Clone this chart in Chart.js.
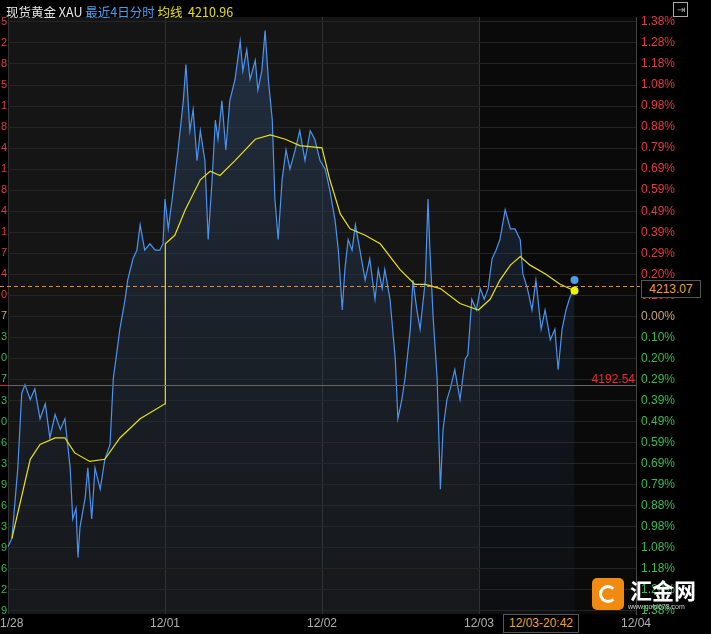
<!DOCTYPE html>
<html><head><meta charset="utf-8">
<script src="https://cdn.jsdelivr.net/npm/chart.js@4"></script>
<style>
body{margin:0;background:#000;width:711px;height:634px;overflow:hidden;font-family:"Noto Sans CJK SC","Noto Sans",sans-serif;}
#wrap{position:absolute;left:0;top:0;width:711px;height:634px;}
#hdr{position:absolute;left:6px;top:2px;font-size:12.5px;white-space:nowrap;}
#logo{position:absolute;left:592px;top:576px;width:110px;height:38px;}
#tip{position:absolute;left:503px;top:614px;width:74px;height:17px;border:1px solid #555;background:#000;color:#f0a030;font:12px "Liberation Sans",sans-serif;text-align:center;line-height:17px;}
#pbox{position:absolute;left:641px;top:280px;width:58px;height:16px;border:1px solid #555;background:#000;color:#f0a030;font:12px "Liberation Sans",sans-serif;text-align:center;line-height:16px;}
</style></head><body>
<div id="wrap"><canvas id="c" width="711" height="634"></canvas></div>
<div id="hdr"><span style="color:#e6e6e6">现货黄金 XAU</span> <span style="color:#4a9ee8">最近4日分时</span> <span style="color:#e8e000">均线</span>&nbsp; <span style="color:#e8e000">4210.96</span></div>
<div style="position:absolute;left:673px;top:2px;width:13px;height:13px;border:1px solid #aaa;color:#aaa;font-size:10px;line-height:12px;text-align:center">⇥</div>
<div id="pbox">4213.07</div>
<div id="tip">12/03-20:42</div>
<div id="logo">
 <div style="position:absolute;left:0;top:2px;width:32px;height:32px;border-radius:5px;background:#f08a10;"></div>
 <div style="position:absolute;left:7px;top:9px;width:18px;height:18px;border-radius:50%;border:3px solid #fff;border-right-color:transparent;box-sizing:border-box"></div>
 <div style="position:absolute;left:38px;top:0;color:#fff;font-size:22px;line-height:26px;font-weight:bold">汇金网</div>
 <div style="position:absolute;left:36px;top:27px;color:#ccc;font:7px 'Liberation Sans',sans-serif">www.gold678.com</div>
</div>
<script>
const xLabels=["11/28","12/01","12/02","12/03","12/04"];
const xTickVals=[0,24,48,72,96];
const pctLabels=["1.38%","1.28%","1.18%","1.08%","0.98%","0.88%","0.79%","0.69%","0.59%","0.49%","0.39%","0.29%","0.20%","0.10%","0.00%","0.10%","0.20%","0.29%","0.39%","0.49%","0.59%","0.69%","0.79%","0.88%","0.98%","1.08%","1.18%","1.28%","1.38%"];
const leftLabels=["5","2","8","5","1","8","4","1","8","4","1","7","4","0","7","3","0","7","3","0","6","3","9","6","3","9","6","2","9"];
const priceHours=[0,0.6,1.5,2.1,2.6,3.4,4.1,4.9,5.7,6.4,7.2,8.0,8.7,9.5,9.9,10.4,10.7,11.0,11.8,12.2,12.8,13.3,14.1,14.8,15.6,16.1,16.5,17.1,17.9,18.3,19.1,19.7,20.2,20.9,21.7,22.5,23.2,23.7,
24.0,24.5,25.1,26.0,26.8,27.2,27.8,28.3,28.9,29.4,30.1,30.6,31.2,31.7,32.1,32.7,33.3,33.9,34.7,35.5,35.9,36.5,37.0,37.8,38.2,38.8,39.3,39.8,40.4,40.8,41.3,41.9,42.5,43.1,43.9,44.6,45.4,46.2,46.9,47.7,48.5,49.2,50.0,50.5,51.1,51.5,52.0,52.6,53.1,53.8,54.6,55.3,56.1,56.6,57.2,57.6,58.4,59.2,59.6,60.2,60.7,61.5,61.9,62.5,63.0,63.8,64.2,64.5,65.0,65.6,66.1,66.5,67.1,67.6,68.3,69.1,69.9,70.3,70.9,71.6,72.2,72.8,73.4,74.0,74.6,75.2,76.0,76.8,77.5,78.3,78.7,79.4,80.1,80.7,81.5,82.1,82.9,83.6,84.1,84.7,85.3,85.8,86.6];
const pricePct=[-1.08,-1.04,-0.71,-0.36,-0.32,-0.39,-0.34,-0.48,-0.41,-0.57,-0.46,-0.53,-0.48,-0.71,-0.95,-0.90,-1.13,-0.99,-0.85,-0.71,-0.95,-0.71,-0.81,-0.67,-0.60,-0.29,-0.20,-0.06,0.08,0.17,0.27,0.31,0.43,0.31,0.34,0.31,0.31,0.34,
0.55,0.41,0.55,0.78,1.01,1.18,0.87,0.97,0.73,0.87,0.73,0.36,0.64,0.92,0.83,1.01,0.78,1.01,1.11,1.29,1.15,1.25,1.11,1.20,1.06,1.15,1.34,1.11,0.92,0.55,0.36,0.64,0.78,0.69,0.78,0.87,0.73,0.87,0.83,0.73,0.69,0.59,0.45,0.31,0.03,0.22,0.36,0.31,0.43,0.31,0.17,0.27,0.08,0.22,0.13,0.22,0.08,-0.20,-0.48,-0.39,-0.29,-0.06,0.17,0.03,-0.06,0.17,0.55,0.31,-0.01,-0.29,-0.81,-0.53,-0.39,-0.34,-0.25,-0.39,-0.20,-0.18,0.08,0.03,0.13,0.08,0.13,0.27,0.31,0.36,0.50,0.41,0.41,0.36,0.20,0.13,0.03,0.17,-0.06,0.03,-0.11,-0.06,-0.25,-0.06,0.03,0.08,0.14];
const avgHours=[0.6,3.4,4.9,7.2,8.7,10.2,12.5,14.8,17.1,20.2,24.0,24.05,25.5,27.1,29.4,30.9,32.4,34.7,37.8,40.1,42.4,44.6,48.0,49.2,50.8,52.3,54.6,56.9,59.9,62.2,63.8,66.1,69.1,71.9,73.7,75.2,76.8,78.3,79.8,82.1,84.4,86.6];
const avgPct=[-1.04,-0.67,-0.60,-0.57,-0.57,-0.64,-0.68,-0.67,-0.57,-0.48,-0.41,0.34,0.38,0.50,0.64,0.68,0.66,0.73,0.83,0.85,0.83,0.80,0.79,0.64,0.48,0.41,0.38,0.34,0.22,0.15,0.15,0.13,0.06,0.03,0.08,0.17,0.24,0.28,0.24,0.20,0.15,0.12];
const lastPricePct=0.14, prevClosePct=-0.32, prevCloseLabel="4192.54";
const dotBluePct=0.17, dotYellowPct=0.12;

const tickVals=pctLabels.map((_,i)=>1.38-i*(1.38/14));
function pctColor(i){return i<14?'#e8383d':(i===14?'#c9a57a':'#2fbf4f');}

const bg={id:'bg',beforeDraw(ch){const {ctx,chartArea:a,scales:{x}}=ch;ctx.save();ctx.fillStyle='#151515';ctx.fillRect(a.left,a.top,a.right-a.left,a.bottom-a.top);const s=x.getPixelForValue(72);ctx.fillStyle='#0a0a0a';ctx.fillRect(s,a.top,a.right-s,a.bottom-a.top);ctx.restore();}};
const ov={id:'ov',afterDatasetsDraw(ch){const {ctx,chartArea:a,scales:{x,y}}=ch;ctx.save();
 let yy=Math.round(y.getPixelForValue(prevClosePct))+0.5;
 ctx.strokeStyle='#666';ctx.lineWidth=1;ctx.beginPath();ctx.moveTo(a.left,yy);ctx.lineTo(a.right,yy);ctx.stroke();
 ctx.strokeStyle='#e0202a';ctx.beginPath();ctx.moveTo(0,yy);ctx.lineTo(a.left,yy);ctx.stroke();
 ctx.fillStyle='#f02828';ctx.font='12px "Liberation Sans"';ctx.textAlign='right';ctx.fillText(prevCloseLabel,a.right-1,yy-3);
 yy=Math.round(y.getPixelForValue(lastPricePct))+0.5;
 ctx.strokeStyle='#f08a20';ctx.setLineDash([4,3]);ctx.beginPath();ctx.moveTo(0,yy);ctx.lineTo(a.right+4,yy);ctx.stroke();ctx.setLineDash([]);
 const xp=x.getPixelForValue(priceHours[priceHours.length-1]);
 ctx.fillStyle='#4a9ee8';ctx.beginPath();ctx.arc(xp,y.getPixelForValue(dotBluePct),4,0,7);ctx.fill();
 ctx.fillStyle='#f0f000';ctx.beginPath();ctx.arc(xp,y.getPixelForValue(dotYellowPct),4,0,7);ctx.fill();
 // left cut-off digits
 ctx.font='11px "Liberation Sans"';ctx.textAlign='right';ctx.textBaseline='middle';
 tickVals.forEach((v,i)=>{ctx.fillStyle=pctColor(i);ctx.fillText(leftLabels[i],a.left-1,y.getPixelForValue(v));});
 // x labels
 ctx.font='12px "Liberation Sans"';ctx.fillStyle='#b0b0b0';ctx.textBaseline='middle';
 xTickVals.forEach((v,i)=>{const p=x.getPixelForValue(v);ctx.textAlign=i===0?'left':'center';ctx.fillText(i===0?xLabels[i].slice(1):xLabels[i],i===0?0:p,a.bottom+10);});
 ctx.restore();}};

const ctx=document.getElementById('c').getContext('2d');
const grad=ctx.createLinearGradient(0,20,0,612);grad.addColorStop(0,'rgba(50,80,120,0.45)');grad.addColorStop(1,'rgba(30,45,65,0.15)');
new Chart(ctx,{type:'scatter',
 data:{datasets:[
  {data:priceHours.map((h,i)=>({x:h,y:pricePct[i]})),showLine:true,borderColor:'#4a94f0',borderWidth:1.2,pointRadius:0,fill:'start',backgroundColor:grad,order:2},
  {data:avgHours.map((h,i)=>({x:h,y:avgPct[i]})),showLine:true,borderColor:'#e8e010',borderWidth:1.2,pointRadius:0,fill:false,order:1}]},
 options:{responsive:false,animation:false,events:[],
  layout:{padding:{top:17,left:8,right:0,bottom:0}},
  plugins:{legend:{display:false},tooltip:{enabled:false}},
  scales:{
   x:{type:'linear',min:0,max:96,afterBuildTicks(s){s.ticks=xTickVals.map(v=>({value:v}));},
      afterFit(s){s.height=20;},
      ticks:{display:false},
      grid:{color:'#333',drawTicks:false},border:{display:false}},
   y:{position:'right',min:-1.395,max:1.403,afterBuildTicks(s){s.ticks=tickVals.map(v=>({value:v}));},
      afterFit(s){s.width=75;},
      ticks:{padding:5,autoSkip:false,font:{size:12,family:'Liberation Sans'},color:c=>pctColor(c.index),callback:(v,i)=>pctLabels[i]},
      grid:{color:'#242424',drawTicks:false},border:{color:'#444'}}
  }},
 plugins:[bg,ov]});
</script></body></html>
